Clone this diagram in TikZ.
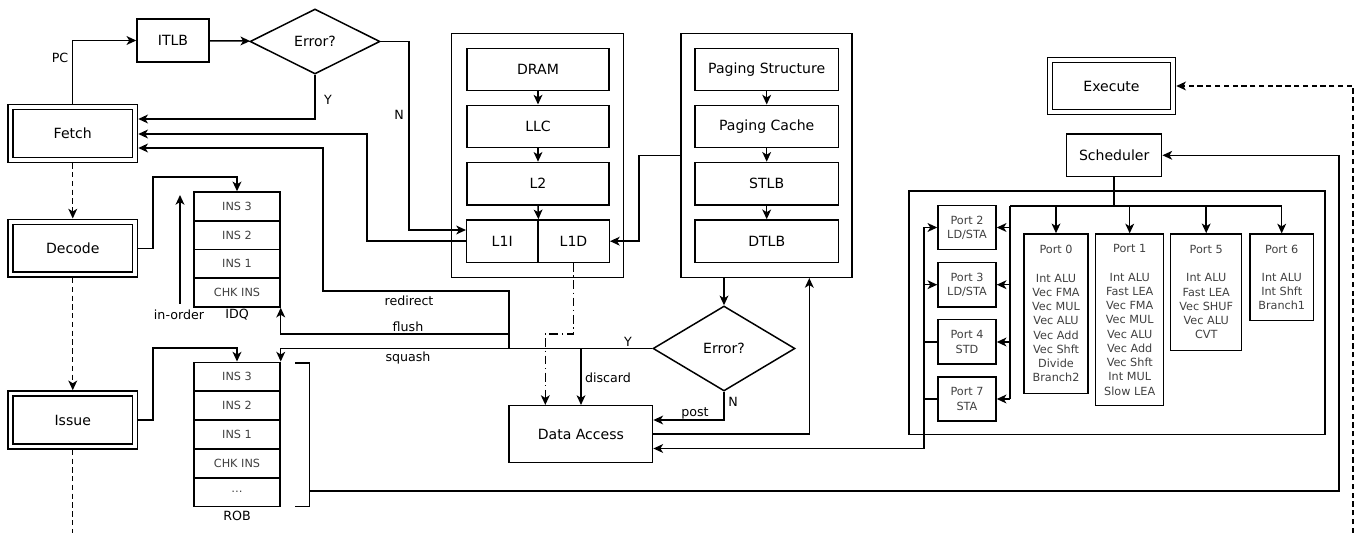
\documentclass[tikz,border=0pt]{standalone}
\usepackage{fontspec}
\setmainfont{DejaVu Sans}
\usetikzlibrary{shapes.geometric,arrows.meta,calc}

\begin{document}
\begin{tikzpicture}[x=0.02cm, y=-0.02cm, line width=0.85pt, font=\fontsize{8}{9.6}\selectfont]
    \tikzstyle{marr}=[-{Stealth[length=5.5pt,width=5pt,inset=1.5pt]}]
    \tikzstyle{blk}=[draw, inner sep=0pt]
    \tikzstyle{stage}=[draw, double, double distance=2pt, inner sep=0pt, outer sep=1.85pt, minimum width=2.49cm, minimum height=1.06cm]
    \tikzstyle{slot}=[draw, inner sep=0pt, minimum width=1.72cm, minimum height=0.577cm, text=black!75, font=\fontsize{6.4}{8.1}\selectfont]
    \tikzstyle{port}=[draw, inner sep=0pt, align=center, text=black!75, font=\fontsize{6.4}{8.1}\selectfont]
    \tikzstyle{lbl}=[inner sep=1pt, font=\fontsize{7.2}{8.6}\selectfont]
    \tikzstyle{dec}=[draw, diamond, inner sep=0pt]
    \tikzstyle{dsh}=[dash pattern=on 3pt off 2pt]

    \useasboundingbox (0,0) rectangle (1359,533);

    % pipeline stages
    \node[stage] (fetch) at (72.75,133.5) {Fetch};
    \node[stage] (decode) at (72.75,248.25) {Decode};
    \node[stage] (issue) at (72.75,420) {Issue};
    \node[stage, minimum width=2.46cm, minimum height=1.05cm] (execute) at (1111.5,86) {Execute};

    \node[blk, minimum width=1.44cm, minimum height=0.86cm] (itlb) at (173,40.5) {ITLB};
    \node[dec, minimum width=2.6cm, minimum height=1.3cm, aspect=2] (err1) at (315,41.5) {Error?};

    % memory hierarchy
    \node[blk, minimum width=3.44cm, minimum height=4.88cm] (mem) at (537.7,155.3) {};
    \foreach \n/\t/\y in {dram/DRAM/69.5, llc/LLC/126.5, l2/L2/183.7} {
        \node[blk, minimum width=2.85cm, minimum height=0.85cm] (\n) at (538,\y) {\t};
    }
    \node[blk, minimum width=1.42cm, minimum height=0.85cm] (l1i) at (502.2,241.2) {L1I};
    \node[blk, minimum width=1.43cm, minimum height=0.85cm] (l1d) at (573.5,241.2) {L1D};
    \draw[marr] (dram) -- (llc);
    \draw[marr] (llc) -- (l2);
    \draw[marr] (l2.south) -- (l1i.north east);

    % translation
    \node[blk, minimum width=3.43cm, minimum height=4.88cm] (pag) at (766.5,155.3) {};
    \foreach \n/\t/\y in {pstr/Paging Structure/69.5, pcache/Paging Cache/126.5, stlb/STLB/183.7, dtlb/DTLB/241.2} {
        \node[blk, minimum width=2.87cm, minimum height=0.85cm] (\n) at (766.7,\y) {\t};
    }
    \draw[marr] (pstr) -- (pcache);
    \draw[marr] (pcache) -- (stlb);
    \draw[marr] (stlb) -- (dtlb);

    \node[dec, minimum width=2.84cm, minimum height=1.7cm, aspect=1.67] (err2) at (724,348.5) {Error?};
    \node[blk, minimum width=2.87cm, minimum height=1.14cm] (dacc) at (580.9,434.2) {Data Access};

    % queues
    \foreach \n/\t/\y in {idq3/INS 3/206.4, idq2/INS 2/235.1, idq1/INS 1/263.9, idqc/CHK INS/292.6} {
        \node[slot, minimum height=0.575cm] (\n) at (237,\y) {\t};
    }
    \foreach \n/\t/\y in {rob3/INS 3/376.7, rob2/INS 2/405.6, rob1/INS 1/434.5, robc/CHK INS/463.4} {
        \node[slot] (\n) at (237,\y) {\t};
    }
    \node[slot] (robd) at (237,492.3) {\ldots};
    \draw (295.3,363) -- (309.3,363) -- (309.3,506.7) -- (295.3,506.7);

    % execution ports
    \node[blk, minimum width=1.9cm, minimum height=0.85cm] (sched) at (1114.2,155.3) {Scheduler};
    \node[blk, minimum width=8.32cm, minimum height=4.87cm] (pbox) at (1117,312.65) {};
    \foreach \n/\t/\y in {2/{LD/STA}/227.5, 3/{LD/STA}/284.7, 4/STD/342, 7/STA/399} {
        \node[port, minimum width=1.16cm, minimum height=0.89cm] (port\n) at (967,\y) {Port \n\\\t};
    }
    \node[port, minimum width=1.28cm, minimum height=3.19cm] (port0) at (1056,313.7) {Port 0\\[8.1pt]Int ALU\\Vec FMA\\Vec MUL\\Vec ALU\\Vec Add\\Vec Shft\\Divide\\Branch2};
    \node[port, minimum width=1.36cm, minimum height=3.43cm] (port1) at (1129.7,319.85) {Port 1\\[8.1pt]Int ALU\\Fast LEA\\Vec FMA\\Vec MUL\\Vec ALU\\Vec Add\\Vec Shft\\Int MUL\\Slow LEA};
    \node[port, minimum width=1.42cm, minimum height=2.33cm] (port5) at (1206.2,292.2) {Port 5\\[8.1pt]Int ALU\\Fast LEA\\Vec SHUF\\Vec ALU\\CVT};
    \node[port, minimum width=1.27cm, minimum height=1.73cm] (port6) at (1281.7,277.4) {Port 6\\[8.1pt]Int ALU\\Int Shft\\Branch1};

    \coordinate (bus) at (1010,206);
    \draw (sched.south) -- (sched.south |- bus);
    \draw (bus) -- (bus -| port6.north);
    \draw (bus) -- (bus |- port7.east);
    \foreach \p in {port0, port1, port5, port6} { \draw[marr] (bus -| \p.north) -- (\p.north); }
    \foreach \p in {port2, port3, port4, port7} { \draw[marr] (bus |- \p.east) -- (\p.east); }

    \coordinate (lbus) at (924,448.5);
    \draw (lbus) -- (lbus |- port2.west);
    \draw[marr] (lbus |- port2.west) -- (port2.west);
    \draw[marr] (lbus |- port3.west) -- (port3.west);
    \draw (port4.west) -- (lbus |- port4.west);
    \draw (port7.west) -- (lbus |- port7.west);
    \draw[marr] (lbus) -- (dacc.east |- lbus);

    % front end
    \draw[marr] (fetch.north) |- (itlb.west);
    \draw[marr] (itlb) -- (err1);
    \draw[marr] (err1.south) |- (fetch.east |- 0,119);
    \draw[marr] (err1.east) -| (409,230) -- (l1i.west |- 0,230);
    \draw[marr] (l1i.west) -| (367,134) -- (fetch.east |- 0,134);
    \draw[marr, dsh] (fetch) -- (decode);
    \draw[marr, dsh] (decode) -- (issue);
    \draw[dsh] (issue.south) -- (issue.south |- 0,533);

    \draw[marr] (decode.east) -| (153,177) -| (idq3.north);
    \draw[marr] (issue.east) -| (153,348) -| (rob3.north);

    \node[lbl] (inorder) at (179,315) {in-order};
    \coordinate (inotop) at (180,195);
    \draw[marr] ($(inorder.north -| inotop)+(0,-4)$) -- (inotop);
    \node[lbl] (idqlbl) at (237,315) {IDQ};
    \node[lbl] (roblbl) at (237,516) {ROB};

    % recovery paths
    \coordinate (rsplit) at (509,348.5);
    \draw[marr] (err2.west) -| (rob3.north east);
    \draw[marr] (rsplit) |- (323,291) |- (fetch.east |- 0,148);
    \draw[marr] (rsplit |- 0,334) -| (idqc.south east);
    \draw[marr] (581,348.5) -- (dacc.north -| 581,0);
    \draw[marr, dash pattern=on 5pt off 2pt on 0.8pt off 2pt] (l1d.south) |- (545.3,334) -- (dacc.north -| 545.3,0);

    \draw[marr] (pag.west) -| ($(l1d.east)+(29,0)$) -- (l1d.east);
    \draw[marr] (pag.south -| err2.north) -- (err2.north);
    \draw[marr] (err2.south) |- (dacc.east |- 0,420);
    \draw[marr] (dacc.east) -| (pag.south -| 809.3,0);

    \coordinate (robout) at (309.3,491);
    \draw[marr] (robout) -| (1339,155.3) -- (sched.east);
    \draw[marr, dsh] (1353,533) |- (execute.east);

    % labels
    { \fontsize{7.2}{8.6}\selectfont
        \node[lbl] (pclbl) at (60,58) {PC};
        \node[lbl] (y1lbl) at (328,100) {Y};
        \node[lbl] (n1lbl) at (399,115) {N};
        \node[lbl] (redlbl) at (409,301) {redirect};
        \node[lbl] (flulbl) at (408,327) {flush};
        \node[lbl] (squlbl) at (408,358) {squash};
        \node[lbl] (y2lbl) at (628,342) {Y};
        \node[lbl] (dislbl) at (608,378) {discard};
        \node[lbl] (postlbl) at (695,413) {post};
        \node[lbl] (n2lbl) at (733,402) {N};
    }
\end{tikzpicture}
\end{document}
